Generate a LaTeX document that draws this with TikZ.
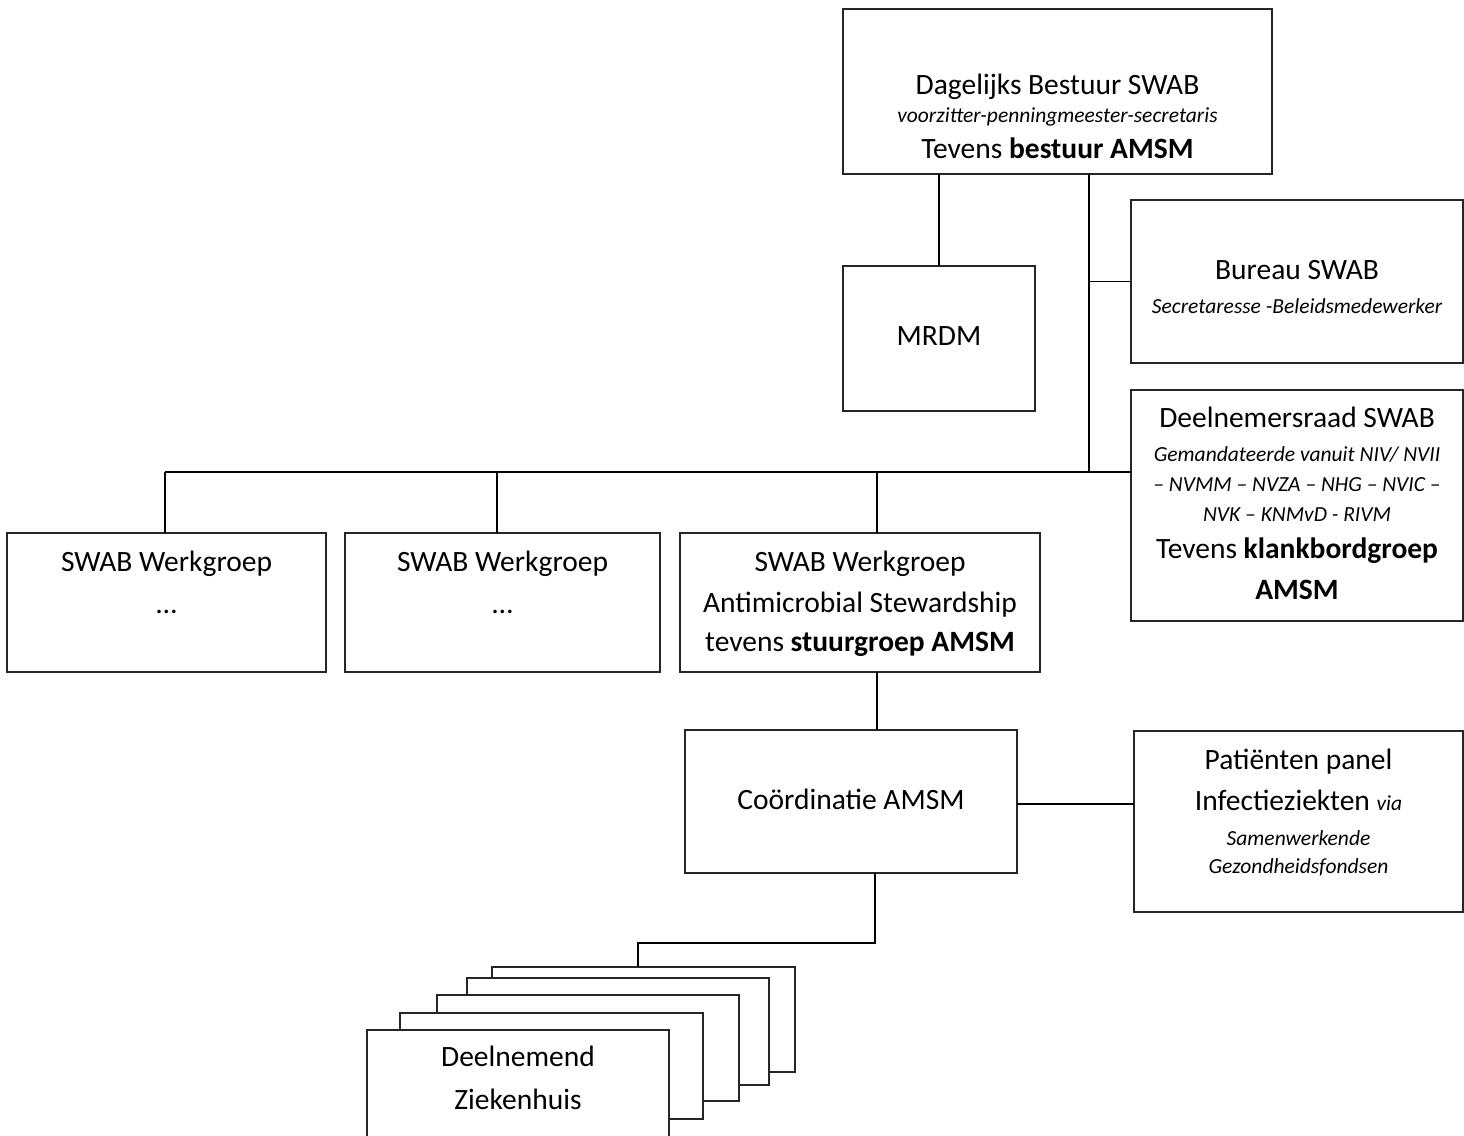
\documentclass[tikz,border=0pt]{standalone}
\usepackage{fontspec}
\setmainfont{Carlito}
\begin{document}
\begin{tikzpicture}[x=1pt,y=-1pt,
  box/.style={draw=black!85, line width=1.3pt, rectangle, inner sep=0pt, outer sep=0pt, anchor=north west, fill=white},
  conn/.style={line width=1.9pt, black},
  big/.style={font=\fontsize{29.5}{34}\selectfont, anchor=base, inner sep=0pt},
  small/.style={font=\fontsize{21.5}{25}\selectfont\itshape, anchor=base, inner sep=0pt}]
\useasboundingbox (0,0) rectangle (1464,1135);

% boxes
\node[box, minimum width=429pt, minimum height=165pt] (dag) at (843,9) {};
\node[box, minimum width=192pt, minimum height=145pt] (mrdm) at (843,266) {};
\node[box, minimum width=332pt, minimum height=163pt] (bureau) at (1131,200) {};
\node[box, minimum width=332pt, minimum height=231pt] (deel) at (1131,390) {};
\node[box, minimum width=319pt, minimum height=139pt] (wg1) at (7,533) {};
\node[box, minimum width=315pt, minimum height=139pt] (wg2) at (345,533) {};
\node[box, minimum width=360pt, minimum height=139pt] (wg3) at (680,533) {};
\node[box, minimum width=332pt, minimum height=143pt] (coord) at (685,730) {};
\node[box, minimum width=329pt, minimum height=181pt] (pat) at (1134,731) {};
% stacked hospital boxes (back to front)
\node[box, minimum width=303pt, minimum height=105pt] (s5) at (492,967) {};
\node[box, minimum width=302pt, minimum height=107pt] (s4) at (467,978) {};
\node[box, minimum width=302pt, minimum height=106pt] (s3) at (437,995) {};
\node[box, minimum width=303pt, minimum height=106pt] (s2) at (400,1013) {};
\node[box, minimum width=302pt, minimum height=130pt] (s1) at (367,1030) {};

% connectors
\coordinate (ttop) at (1089,174);
\coordinate (tbus) at (1089,472);
\draw[conn] (dag.south -| mrdm.north) -- (mrdm.north);
\draw[conn] (ttop) -- (tbus);
\draw[conn] (bureau.west -| ttop) -- (bureau.west);
\draw[conn] ([xshift=-1.5pt]wg1.north |- tbus) -- (deel.west |- tbus);
\draw[conn] ([xshift=-1.5pt]wg1.north |- tbus) -- ([xshift=-1.5pt]wg1.north);
\draw[conn] ([xshift=-5.5pt]wg2.north |- tbus) -- ([xshift=-5.5pt]wg2.north);
\draw[conn] ([xshift=17pt]wg3.north |- tbus) -- ([xshift=17pt]wg3.north);
\draw[conn] ([xshift=17pt]wg3.south) -- ([xshift=26pt]coord.north);
\draw[conn] ([yshift=-2.5pt]coord.east) -- ([yshift=-2.5pt]coord.east -| pat.west);
\coordinate (hbend) at (875,943);
\coordinate (hdrop) at ([xshift=-5.5pt]s5.north);
\draw[conn] ([xshift=24pt]coord.south) -- (hbend) -- (hbend -| hdrop) -- (hdrop);

% texts
\node[big] (dag1) at (1057.5,94) {Dagelijks Bestuur SWAB};
\node[small] (dag2) at (1057.5,122.7) {voorzitter-penningmeester-secretaris};
\node[big] (dag3) at (1057.5,158.3) {Tevens \textbf{bestuur AMSM}};

\node[big] (mrdm1) at (939,345) {MRDM};

\node[big] (bur1) at (1297,279.3) {Bureau SWAB};
\node[small] (bur2) at (1297,313.3) {Secretaresse -Beleidsmedewerker};

\node[big] (dl1) at (1297,427.3) {Deelnemersraad SWAB};
\node[small] (dl2) at (1297,461.7) {Gemandateerde vanuit NIV/ NVII};
\node[small] (dl3) at (1297,491.7) {– NVMM – NVZA – NHG – NVIC –};
\node[small] (dl4) at (1297,521.7) {NVK – KNMvD - RIVM};
\node[big] (dl5) at (1297,558.3) {Tevens \textbf{klankbordgroep}};
\node[big] (dl6) at (1297,599.3) {\textbf{AMSM}};

\node[big] (w11) at (166.5,571.7) {SWAB Werkgroep};
\node[big] (w12) at (166.5,613) {…};
\node[big] (w21) at (502.5,571.7) {SWAB Werkgroep};
\node[big] (w22) at (502.5,613) {…};
\node[big] (w31) at (860,571.7) {SWAB Werkgroep};
\node[big] (w32) at (860,612.3) {Antimicrobial Stewardship};
\node[big] (w33) at (860,651.7) {tevens \textbf{stuurgroep AMSM}};

\node[big] (co1) at (851,809) {Coördinatie AMSM};

\node[big] (pa1) at (1298.5,769) {Patiënten panel};
\node[big] (pa2) at (1298.5,810) {Infectieziekten {\fontsize{21.5}{25}\selectfont\itshape via}};
\node[small] (pa3) at (1298.5,845) {Samenwerkende};
\node[small] (pa4) at (1298.5,873) {Gezondheidsfondsen};

\node[big] (zh1) at (518,1066.7) {Deelnemend};
\node[big] (zh2) at (518,1109.3) {Ziekenhuis};
\end{tikzpicture}
\end{document}
